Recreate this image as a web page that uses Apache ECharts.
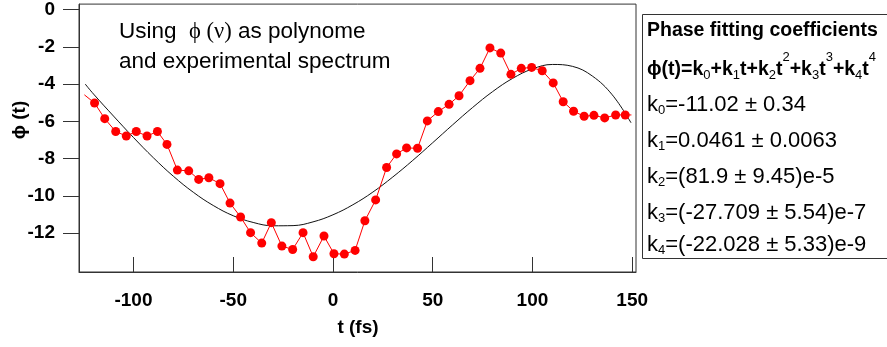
<!DOCTYPE html>
<html>
<head>
<meta charset="utf-8">
<script src="https://cdn.jsdelivr.net/npm/echarts@6.0.0/dist/echarts.min.js"></script>
<style>html,body{margin:0;padding:0;background:#fff;}#c{width:887px;height:347px;}</style>
</head>
<body>
<div id="c"></div>
<script>
// ---- data ----
const dataT = [-124.6, -119.5, -114.4, -108.9, -103.6, -98.6, -93.2, -88.0, -83.2, -78.0, -72.3, -67.3, -62.2, -56.6, -51.6, -46.3, -41.3, -35.7, -30.9, -25.6, -20.2, -15.0, -9.9, -4.5, 0.5, 5.7, 11.1, 16.0, 21.4, 26.9, 31.9, 36.9, 42.4, 47.3, 52.8, 58.2, 63.2, 68.7, 73.7, 78.7, 84.1, 89.2, 94.4, 99.6, 104.9, 110.4, 115.4, 120.6, 125.9, 130.8, 136.2, 141.7, 146.5, 149.6];
const dataPhi = [-4.58, -5.02, -5.86, -6.55, -6.79, -6.55, -6.79, -6.55, -7.24, -8.62, -8.66, -9.12, -9.03, -9.35, -10.39, -11.14, -11.98, -12.54, -11.44, -12.70, -12.88, -11.98, -13.27, -12.16, -13.11, -13.13, -12.93, -11.34, -10.22, -8.48, -7.75, -7.43, -7.45, -5.98, -5.48, -5.09, -4.63, -3.82, -3.16, -2.06, -2.34, -3.48, -3.16, -3.11, -3.29, -3.94, -4.95, -5.46, -5.73, -5.68, -5.82, -5.66, -5.66, -5.66];
const fitT = [-124.2, -120, -110, -100, -90, -80, -70, -60, -50, -40, -30, -20, -10, 0, 10, 20, 30, 40, 50, 60, 70, 80, 90, 100, 110, 120, 130, 140, 149.4];
const fitPhi = [-4.0, -4.54, -5.72, -6.87, -7.96, -8.95, -9.81, -10.52, -11.07, -11.43, -11.61, -11.60, -11.40, -11.02, -10.48, -9.80, -8.99, -8.10, -7.15, -6.19, -5.26, -4.41, -3.70, -3.19, -2.95, -3.05, -3.57, -4.58, -6.08];
const xTicks = [-100, -50, 0, 50, 100, 150];
const yTicks = [0, -2, -4, -6, -8, -10, -12];
const xName = 't (fs)';
const yName = '\u03D5 (t)';
const noteLines = ['Using  ', '\u03D5 (\u03BD)', ' as polynome', 'and experimental spectrum'];
const boxTitle = 'Phase fitting coefficients';
const coefNames = ['0', '1', '2', '3', '4'];
const coefTexts = ['=-11.02 \u00B1 0.34', '=0.0461 \u00B1 0.0063', '=(81.9 \u00B1 9.45)e-5', '=(-27.709 \u00B1 5.54)e-7', '=(-22.028 \u00B1 5.33)e-9'];

const FONT = '"Liberation Sans", Arial, sans-serif';
const SERIF = '"Liberation Serif", "DejaVu Serif", serif';
const chart = echarts.init(document.getElementById('c'), null, {renderer: 'canvas'});

const rich = {
  b: {fontFamily: FONT, fontWeight: 'bold', fontSize: 19.5, lineHeight: 40, verticalAlign: 'middle', fill: '#000'},
  r: {fontFamily: FONT, fontWeight: 'normal', fontSize: 22, lineHeight: 40, verticalAlign: 'middle', fill: '#000'},
  sb: {fontFamily: FONT, fontWeight: 'normal', fontSize: 13, lineHeight: 40, verticalAlign: 'middle', padding: [10, 0, 0, 0], fill: '#000'},
  sp: {fontFamily: FONT, fontWeight: 'normal', fontSize: 13, lineHeight: 40, verticalAlign: 'middle', padding: [0, 0, 26, 0], fill: '#000'}
};
function txt(x, y, text) {
  return {type: 'text', x: x, y: y, z: 100,
    style: {text: text, rich: rich, align: 'left', verticalAlign: 'middle', textAlign: 'left', textVerticalAlign: 'middle', fill: '#000'}};
}
const lineYs = [31, 70, 105, 141, 177, 213, 245];
const graphics = [
  {type: 'rect', z: 90, shape: {x: 642.5, y: 14.5, width: 260, height: 244}, style: {fill: '#fff', stroke: '#333', lineWidth: 1}},
  txt(647, lineYs[0], '{b|' + boxTitle + '}'),
  txt(647, lineYs[1], '{b|\u03D5(t)=k}{sb|0}{b|+k}{sb|1}{b|t+k}{sb|2}{b|t}{sp|2}{b|+k}{sb|3}{b|t}{sp|3}{b|+k}{sb|4}{b|t}{sp|4}')
];
for (let i = 0; i < coefTexts.length; i++) {
  graphics.push(txt(647, lineYs[i + 2], '{r|k}{sb|' + coefNames[i] + '}{r|' + coefTexts[i] + '}'));
}
graphics.push({type: 'text', x: 119, y: 32, z: 100, style: {
  text: '{n|' + noteLines[0] + '}{g|' + noteLines[1] + '}{n|' + noteLines[2] + '}',
  rich: {n: {fontFamily: FONT, fontSize: 22.5, fill: '#000'}, g: {fontFamily: SERIF, fontSize: 22.5, fill: '#000'}},
  align: 'left', verticalAlign: 'middle', textAlign: 'left', textVerticalAlign: 'middle'}});
graphics.push({type: 'text', x: 119, y: 62, z: 100, style: {
  text: noteLines[3], font: '22.5px ' + FONT, fill: '#000',
  align: 'left', verticalAlign: 'middle', textAlign: 'left', textVerticalAlign: 'middle'}});
graphics.push({type: 'text', x: 358, y: 328, z: 100, style: {
  text: xName, font: 'bold 19px ' + FONT, fill: '#000',
  align: 'center', verticalAlign: 'middle', textAlign: 'center', textVerticalAlign: 'middle'}});
graphics.push({type: 'text', x: 20, y: 120, rotation: Math.PI / 2, z: 100, style: {
  text: yName, font: 'bold 19px ' + FONT, fill: '#000',
  align: 'center', verticalAlign: 'middle', textAlign: 'center', textVerticalAlign: 'middle'}});

const measured = dataT.map((t, i) => [t, dataPhi[i]]);
const fitted = fitT.map((t, i) => [t, fitPhi[i]]);
const lastIdx = measured.length - 1;

chart.setOption({
  animation: false,
  backgroundColor: '#fff',
  grid: {left: 79, right: 251, top: 2, bottom: 75, show: true, borderColor: '#333', borderWidth: 1, backgroundColor: 'transparent'},
  xAxis: {
    type: 'value', min: -127.3, max: 151.9,
    axisLine: {show: true, onZero: false, lineStyle: {color: '#333', width: 1}},
    axisTick: {show: true, inside: true, length: 15, customValues: xTicks, lineStyle: {color: '#333', width: 1}},
    axisLabel: {customValues: xTicks, fontFamily: FONT, fontSize: 19, fontWeight: 'bold', color: '#000', margin: 19},
    splitLine: {show: false}
  },
  yAxis: {
    type: 'value', min: -14.09, max: 0.29,
    axisLine: {show: true, onZero: false, lineStyle: {color: '#333', width: 1}},
    axisTick: {show: true, inside: false, length: 16, customValues: yTicks, lineStyle: {color: '#333', width: 1}},
    axisLabel: {customValues: yTicks, fontFamily: FONT, fontSize: 19, fontWeight: 'bold', color: '#000', margin: 24},
    splitLine: {show: false}
  },
  graphic: graphics,
  series: [
    {type: 'line', data: fitted, smooth: 0.4, showSymbol: false, z: 2,
     lineStyle: {color: '#111', width: 1}, itemStyle: {color: '#111'}},
    {type: 'line', data: measured, z: 3, symbol: 'circle', showAllSymbol: true,
     symbolSize: (v, p) => (p.dataIndex === 0 || p.dataIndex === lastIdx) ? 0 : 9,
     lineStyle: {color: '#ff0000', width: 1}, itemStyle: {color: '#ff0000'}}
  ]
});
</script>
</body>
</html>
